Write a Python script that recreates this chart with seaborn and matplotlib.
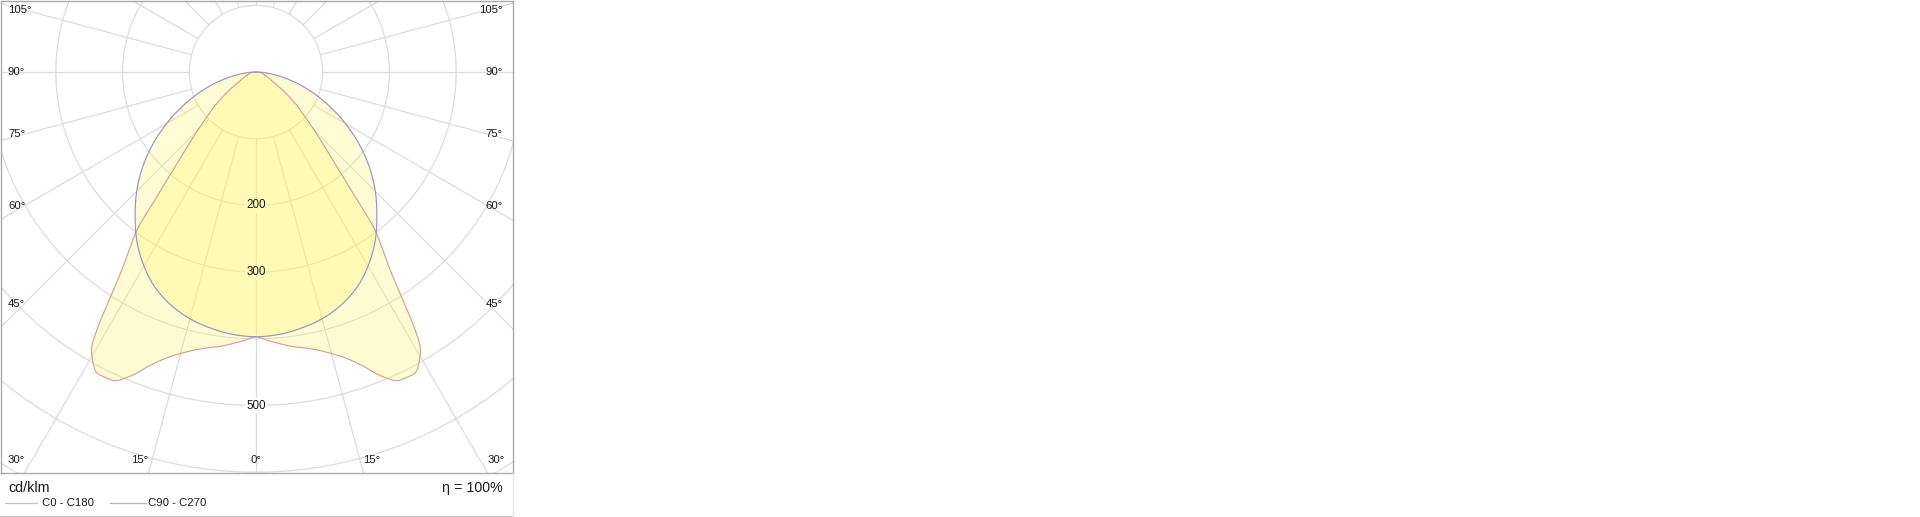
import numpy as np
import pandas as pd
import matplotlib
matplotlib.use("Agg")
import matplotlib.pyplot as plt
import seaborn as sns
from matplotlib.patches import Circle
from matplotlib.lines import Line2D

# ---------------- data (cd/klm, gamma in degrees from nadir) ----------------
gamma_c0 = [0, 2.5, 5, 7.5, 10, 12.5, 15, 17.5, 20, 22.5, 25, 27.5, 30, 31, 32, 33,
            34, 35, 36, 37, 38.5, 40, 42.5, 45, 47.5, 50, 55, 60, 65, 70, 75, 80, 85, 90]
intensity_c0 = [397, 403, 409, 415, 420, 427, 437, 450, 469, 494, 510, 511, 492, 477, 441, 398,
                362, 338, 317, 297, 238, 198, 153, 125, 100, 84, 52, 30, 21, 15, 11, 7, 3, 0]

gamma_c90 = [0, 5, 10, 15, 20, 25, 30, 35, 40, 45, 50, 55, 60, 65, 70, 75, 80, 85, 90]
intensity_c90 = [397, 395, 390, 383, 372, 357, 336, 311, 282, 253, 222, 189, 155, 122, 91, 62, 36, 15, 0]

radial_ticks = [200, 300, 500]
side_angle_labels = [105, 90, 75, 60, 45]
bottom_angle_labels = [30, 15, 0]
series_names = ["C0 - C180", "C90 - C270"]
unit_label = "cd/klm"
efficiency_label = "η = 100%"

# ---------------- style ----------------
sns.set_theme(style="white")
plt.rcParams["font.family"] = ["Liberation Sans", "DejaVu Sans"]

W, H = 1920, 517
fig = plt.figure(figsize=(W / 100, H / 100), dpi=100)
fig.patch.set_facecolor("white")

L, R, T, B = 0.5, 512.5, 0.5, 473.0      # plot frame in pixels
cx, cy = 256.0, 72.0                    # polar centre in pixels
ppu = 0.667                             # pixels per cd/klm

ax = fig.add_axes([L / W, 1 - B / H, (R - L) / W, (B - T) / H])
ax.set_xlim((L - cx) / ppu, (R - cx) / ppu)
ax.set_ylim(-(B - cy) / ppu, (cy - T) / ppu)
ax.set_xticks([])
ax.set_yticks([])
for s in ax.spines.values():
    s.set_color("#A9A9A9")
    s.set_linewidth(1.0)

grid_col = "#DCDCDC"
for r in range(100, 1300, 100):
    ax.add_patch(Circle((0, 0), r, fill=False, ec=grid_col, lw=0.9, zorder=1))
for a in range(0, 360, 15):
    t = np.deg2rad(a)
    ax.plot([100 * np.sin(t), 1500 * np.sin(t)], [-100 * np.cos(t), -1500 * np.cos(t)],
            color=grid_col, lw=0.9, zorder=1)


def pchip_eval(x, y, xn):
    """Shape-preserving cubic used only to draw a smooth outline through the points."""
    x = np.asarray(x, float)
    y = np.asarray(y, float)
    h = np.diff(x)
    delta = np.diff(y) / h
    d = np.zeros_like(y)
    for k in range(1, len(x) - 1):
        if delta[k - 1] * delta[k] > 0:
            w1 = 2 * h[k] + h[k - 1]
            w2 = h[k] + 2 * h[k - 1]
            d[k] = (w1 + w2) / (w1 / delta[k - 1] + w2 / delta[k])
    d[0] = delta[0]
    d[-1] = delta[-1]
    idx = np.clip(np.searchsorted(x, xn) - 1, 0, len(x) - 2)
    t = (xn - x[idx]) / h[idx]
    h00 = 2 * t**3 - 3 * t**2 + 1
    h10 = t**3 - 2 * t**2 + t
    h01 = -2 * t**3 + 3 * t**2
    h11 = t**3 - t**2
    return h00 * y[idx] + h10 * h[idx] * d[idx] + h01 * y[idx + 1] + h11 * h[idx] * d[idx + 1]


def full_curve(g, I, name):
    g = np.asarray(g, float)
    I = np.asarray(I, float)
    gg = np.concatenate([-g[::-1], g[1:]])
    II = np.concatenate([I[::-1], I[1:]])
    gn = np.linspace(gg[0], gg[-1], 1441)
    In = np.maximum(pchip_eval(gg, II, gn), 0)
    t = np.deg2rad(gn)
    return pd.DataFrame({"x": In * np.sin(t), "y": -In * np.cos(t), "curve": name})


df = pd.concat([full_curve(gamma_c0, intensity_c0, series_names[0]),
                full_curve(gamma_c90, intensity_c90, series_names[1])], ignore_index=True)

fill_rgb = np.array([255, 245, 115]) / 255.0
fill_alpha = 0.30
for name in series_names[::-1]:
    d = df[df.curve == name]
    ax.fill(d.x, d.y, color=fill_rgb, alpha=fill_alpha, lw=0, zorder=2)

line_cols = {series_names[0]: "#D8A08C", series_names[1]: "#9494C6"}
sns.lineplot(data=df, x="x", y="y", hue="curve", sort=False, estimator=None,
             palette=line_cols, legend=False, lw=0.85, ax=ax, zorder=3)
ax.set_xlabel("")
ax.set_ylabel("")

c1 = np.ones(3) * (1 - fill_alpha) + fill_rgb * fill_alpha
c2 = c1 * (1 - fill_alpha) + fill_rgb * fill_alpha

txt_col = "#1A1A1A"
for r in radial_ticks:
    inside = r < 397
    ax.text(0, -r, str(r), ha="center", va="center", fontsize=8.4, color=txt_col, zorder=5,
            bbox=dict(boxstyle="square,pad=0.12", fc=c2 if inside else "white", ec="none"))

d_side = 232 / ppu
x_left = (8 - cx) / ppu
x_right = (503 - cx) / ppu
for a in side_angle_labels:
    t = np.deg2rad(a)
    y = -d_side * np.cos(t) / np.sin(t)
    ax.text(x_left, y, f"{a}°", ha="left", va="center", fontsize=8.2, color=txt_col, zorder=5)
    ax.text(x_right, y, f"{a}°", ha="right", va="center", fontsize=8.2, color=txt_col, zorder=5)

y_bot = (cy - 460) / ppu
d_bot = (B - cy) / ppu
for a in bottom_angle_labels:
    xs = d_bot * np.tan(np.deg2rad(a))
    if a == 0:
        ax.text(0, y_bot, f"{a}°", ha="center", va="center", fontsize=8.2, color=txt_col, zorder=5)
    else:
        ax.text(-xs, y_bot, f"{a}°", ha="right", va="center", fontsize=8.2, color=txt_col, zorder=5)
        ax.text(xs, y_bot, f"{a}°", ha="left", va="center", fontsize=8.2, color=txt_col, zorder=5)


def fx(px):
    return px / W


def fy(py):
    return 1 - py / H


fig.text(fx(8), fy(488), unit_label, ha="left", va="center", fontsize=10.3, color=txt_col)
fig.text(fx(503), fy(488), efficiency_label, ha="right", va="center", fontsize=10.3, color=txt_col)

leg_cols = ["#E3B4B0", "#B4B4C4"]
fig.add_artist(Line2D([fx(5), fx(37)], [fy(503), fy(503)], color=leg_cols[0], lw=0.9))
fig.text(fx(42), fy(503), series_names[0], ha="left", va="center", fontsize=8.2, color=txt_col)
fig.add_artist(Line2D([fx(110), fx(146)], [fy(503), fy(503)], color=leg_cols[1], lw=0.9))
fig.text(fx(147.5), fy(503), series_names[1], ha="left", va="center", fontsize=8.2, color=txt_col)

fig.add_artist(Line2D([fx(0), fx(513)], [fy(516), fy(516)], color="#C8C8C8", lw=1.0))
fig.add_artist(Line2D([fx(512.5), fx(512.5)], [fy(473), fy(516)], color="#E6E6E6", lw=1.0))

fig.savefig("out.png", dpi=100, facecolor="white")
